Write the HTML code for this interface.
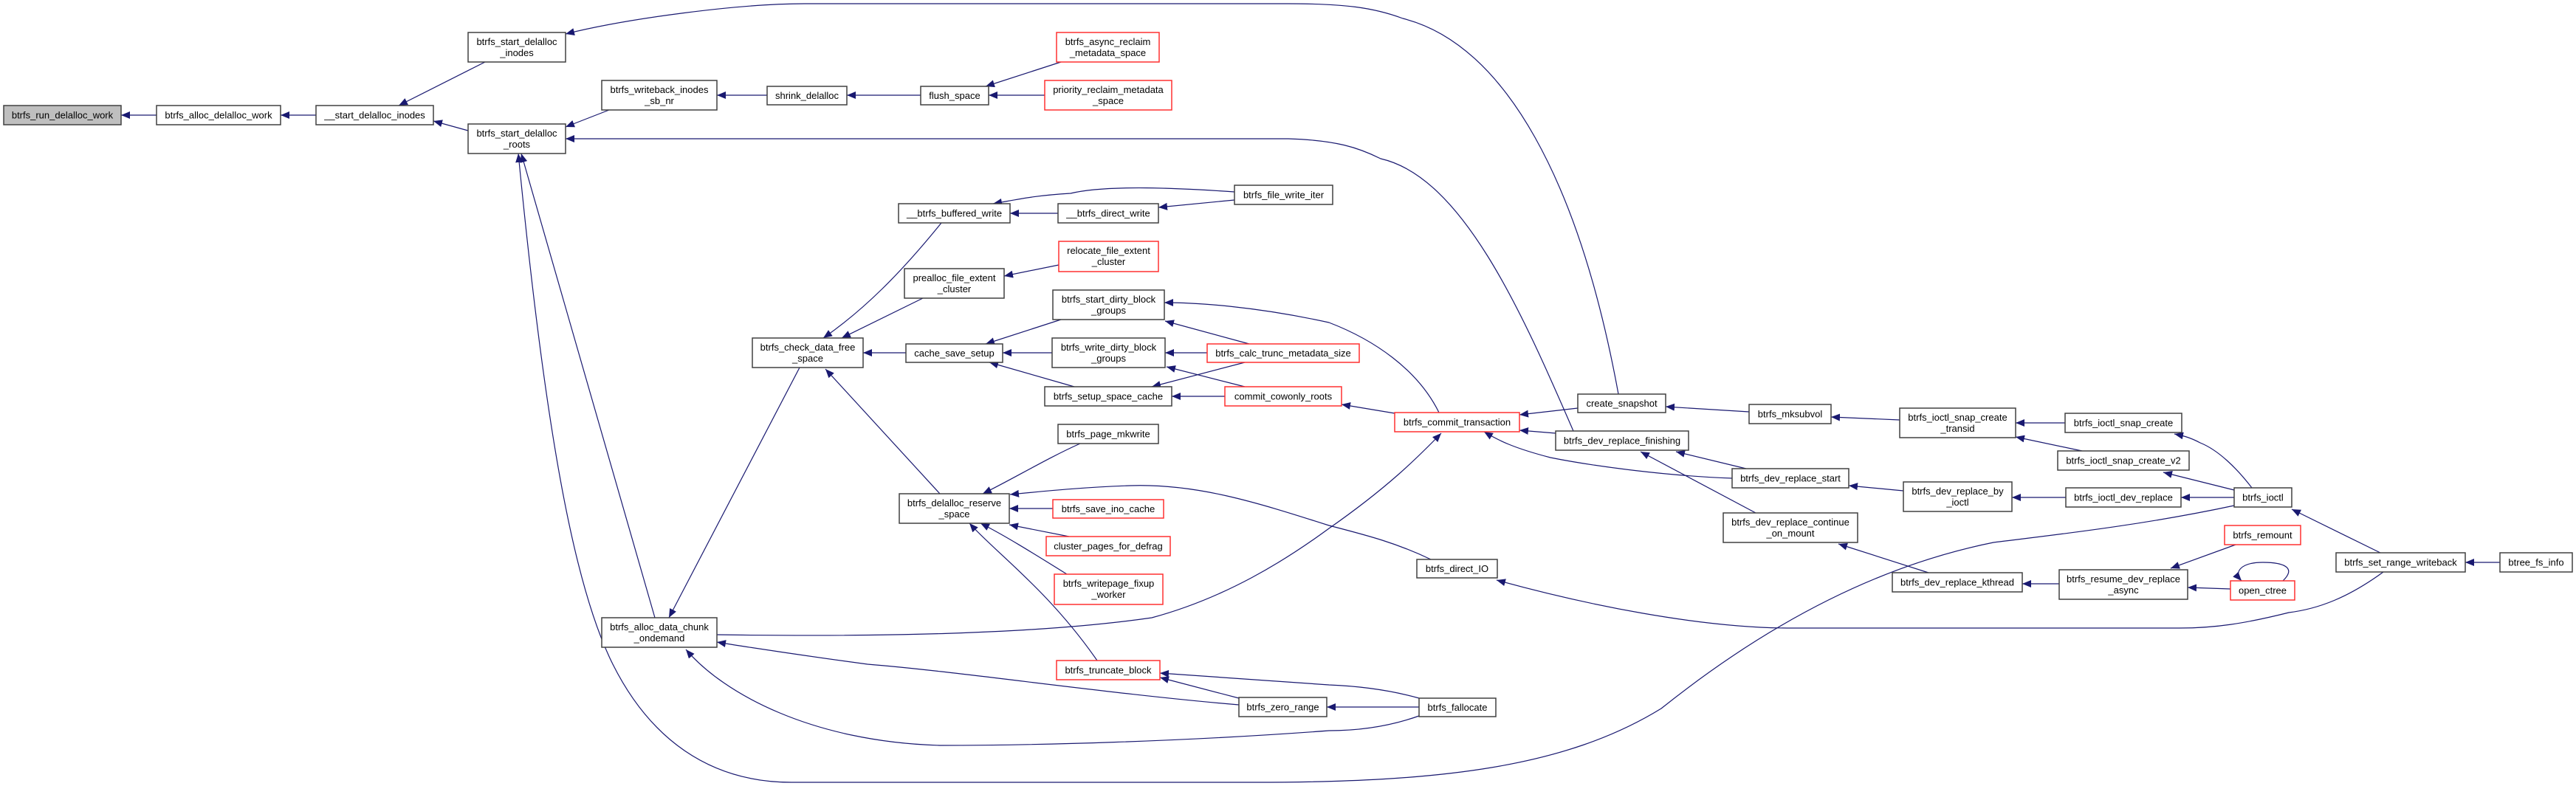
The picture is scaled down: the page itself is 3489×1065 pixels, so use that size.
<!DOCTYPE html>
<html><head><meta charset="utf-8"><style>
html,body{margin:0;padding:0;background:#fff;}
svg{display:block;}
text{font-family:"Liberation Sans",Arial,sans-serif;font-size:13px;fill:#000;}
.e{fill:none;stroke:#191970;stroke-width:1.2;}
.n{fill:#fff;stroke:#404040;stroke-width:1.5;}
.r{fill:#fff;stroke:#ff3030;stroke-width:1.5;}
.g{fill:#bfbfbf;stroke:#404040;stroke-width:1.5;}
</style></head><body>
<svg width="3489" height="1065" viewBox="0 0 3489 1065" xmlns="http://www.w3.org/2000/svg">
<defs><marker id="a" markerUnits="userSpaceOnUse" markerWidth="14" markerHeight="11" refX="12" refY="5" orient="auto"><path d="M0,0 L12,5 L0,10 z" fill="#191970"/></marker></defs>
<g marker-end="url(#a)">
<path class="e" d="M212,156 L164,156"/>
<path class="e" d="M428,156 L380,156"/>
<path class="e" d="M657,84 L540,143"/>
<path class="e" d="M634,177 L587,164"/>
<path class="e" d="M2192,534 C2140,250 2040,60 1900,25 C1860,10 1820,5 1745,5 L1090,5 C1000,5 850,25 766,46"/>
<path class="e" d="M825,149 L766,172"/>
<path class="e" d="M1039,129 L971,129"/>
<path class="e" d="M1247,129 L1147,129"/>
<path class="e" d="M1437,84 L1335,117"/>
<path class="e" d="M1415,129 L1339,129"/>
<path class="e" d="M2131,584 C2060,420 1980,240 1870,215 C1840,200 1810,190 1745,188 L766,188"/>
<path class="e" d="M887,837 L706,208"/>
<path class="e" d="M3026,685 C2900,712 2780,725 2700,735 C2550,765 2400,840 2250,960 C2120,1040 1950,1060 1700,1060 L1072,1060 C960,1060 880,1000 830,900 C780,800 740,600 702,208"/>
<path class="e" d="M1083,498 L906,837"/>
<path class="e" d="M1275,302 C1220,370 1170,420 1115,458"/>
<path class="e" d="M1250,404 L1140,458"/>
<path class="e" d="M1227,478 L1169,478"/>
<path class="e" d="M1273,669 L1118,500"/>
<path class="e" d="M1433,289 L1368,289"/>
<path class="e" d="M1672,260 C1600,255 1500,250 1450,262 C1400,265 1380,270 1345,276"/>
<path class="e" d="M1672,271 L1569,281"/>
<path class="e" d="M1434,359 L1360,374"/>
<path class="e" d="M1437,433 L1335,466"/>
<path class="e" d="M1425,478 L1358,478"/>
<path class="e" d="M1455,524 L1340,491"/>
<path class="e" d="M1692,466 L1578,435"/>
<path class="e" d="M1635,478 L1578,478"/>
<path class="e" d="M1686,491 L1560,524"/>
<path class="e" d="M1686,524 L1580,497"/>
<path class="e" d="M1659,537 L1587,537"/>
<path class="e" d="M1949,559 C1920,500 1860,460 1800,437 C1700,415 1620,410 1577,410"/>
<path class="e" d="M1889,560 L1817,548"/>
<path class="e" d="M2137,553 L2058,562"/>
<path class="e" d="M2107,587 L2058,583"/>
<path class="e" d="M2346,648 C2260,645 2160,632 2100,620 C2050,607 2030,597 2010,585"/>
<path class="e" d="M971,860 C1180,863 1400,860 1560,837 C1660,810 1740,760 1800,716 C1880,660 1920,620 1952,587"/>
<path class="e" d="M1938,758 C1890,735 1850,725 1800,712 C1700,680 1620,655 1531,658 C1470,660 1420,665 1368,670"/>
<path class="e" d="M1463,601 C1420,620 1370,650 1331,669"/>
<path class="e" d="M1426,689 L1367,689"/>
<path class="e" d="M1448,727 L1367,711"/>
<path class="e" d="M1445,778 C1400,750 1360,725 1328,709"/>
<path class="e" d="M1486,895 C1420,800 1350,750 1313,709"/>
<path class="e" d="M3228,775 C3180,810 3140,825 3100,830 C3040,845 3000,851 2952,851 L2420,851 C2300,850 2150,820 2027,786"/>
<path class="e" d="M1678,955 C1500,940 1300,910 1175,900 C1100,890 1000,875 971,870"/>
<path class="e" d="M1922,970 C1880,985 1840,990 1800,990 C1600,1005 1400,1010 1273,1010 C1100,1005 980,940 929,880"/>
<path class="e" d="M1678,946 L1571,918"/>
<path class="e" d="M1922,946 C1890,937 1850,930 1800,928 L1571,912"/>
<path class="e" d="M1922,958 L1797,958"/>
<path class="e" d="M2369,558 L2256,551"/>
<path class="e" d="M2573,569 L2480,565"/>
<path class="e" d="M2797,573 L2730,573"/>
<path class="e" d="M2820,611 L2730,592"/>
<path class="e" d="M3050,661 C3030,635 3005,610 2980,600 C2965,592 2955,590 2945,588"/>
<path class="e" d="M3026,664 L2930,640"/>
<path class="e" d="M3026,674 L2954,674"/>
<path class="e" d="M2798,674 L2725,674"/>
<path class="e" d="M2578,665 L2504,658"/>
<path class="e" d="M2365,635 L2270,612"/>
<path class="e" d="M2378,695 L2222,612"/>
<path class="e" d="M2612,776 L2490,737"/>
<path class="e" d="M2789,791 L2739,791"/>
<path class="e" d="M3028,738 L2940,770"/>
<path class="e" d="M3021,798 L2963,796"/>
<path class="e" d="M3092,787 C3110,770 3095,762 3065,762 C3035,762 3025,775 3036,787"/>
<path class="e" d="M3224,749 L3104,690"/>
<path class="e" d="M3386,762 L3339,762"/>
</g>
<g text-anchor="middle">
<rect class="g" x="5" y="143" width="159" height="26"/><text x="84.5" y="160.5">btrfs_run_delalloc_work</text>
<rect class="n" x="212" y="143" width="168" height="26"/><text x="296" y="160.5">btrfs_alloc_delalloc_work</text>
<rect class="n" x="428" y="143" width="159" height="26"/><text x="507.5" y="160.5">__start_delalloc_inodes</text>
<rect class="n" x="634" y="44" width="132" height="40"/><text x="700" y="61">btrfs_start_delalloc</text><text x="700" y="76">_inodes</text>
<rect class="n" x="634" y="168" width="132" height="40"/><text x="700" y="185">btrfs_start_delalloc</text><text x="700" y="200">_roots</text>
<rect class="n" x="815" y="109" width="156" height="40"/><text x="893" y="126">btrfs_writeback_inodes</text><text x="893" y="141">_sb_nr</text>
<rect class="n" x="1039" y="117" width="108" height="25"/><text x="1093" y="134">shrink_delalloc</text>
<rect class="n" x="1247" y="117" width="92" height="25"/><text x="1293" y="134">flush_space</text>
<rect class="r" x="1431" y="44" width="139" height="40"/><text x="1500.5" y="61">btrfs_async_reclaim</text><text x="1500.5" y="76">_metadata_space</text>
<rect class="r" x="1415" y="109" width="172" height="40"/><text x="1501" y="126">priority_reclaim_metadata</text><text x="1501" y="141">_space</text>
<rect class="n" x="1672" y="251" width="133" height="26"/><text x="1738.5" y="268.5">btrfs_file_write_iter</text>
<rect class="n" x="1217" y="276" width="151" height="26"/><text x="1292.5" y="293.5">__btrfs_buffered_write</text>
<rect class="n" x="1433" y="276" width="136" height="26"/><text x="1501" y="293.5">__btrfs_direct_write</text>
<rect class="r" x="1434" y="327" width="135" height="41"/><text x="1501.5" y="344">relocate_file_extent</text><text x="1501.5" y="359">_cluster</text>
<rect class="n" x="1225" y="364" width="135" height="40"/><text x="1292.5" y="381">prealloc_file_extent</text><text x="1292.5" y="396">_cluster</text>
<rect class="n" x="1426" y="393" width="151" height="40"/><text x="1501.5" y="410">btrfs_start_dirty_block</text><text x="1501.5" y="425">_groups</text>
<rect class="n" x="1019" y="458" width="150" height="40"/><text x="1094" y="475">btrfs_check_data_free</text><text x="1094" y="490">_space</text>
<rect class="n" x="1227" y="466" width="131" height="25"/><text x="1292.5" y="483">cache_save_setup</text>
<rect class="n" x="1425" y="458" width="153" height="40"/><text x="1501.5" y="475">btrfs_write_dirty_block</text><text x="1501.5" y="490">_groups</text>
<rect class="r" x="1635" y="466" width="206" height="25"/><text x="1738" y="483">btrfs_calc_trunc_metadata_size</text>
<rect class="n" x="1415" y="524" width="172" height="26"/><text x="1501" y="541.5">btrfs_setup_space_cache</text>
<rect class="r" x="1659" y="524" width="158" height="26"/><text x="1738" y="541.5">commit_cowonly_roots</text>
<rect class="n" x="1433" y="575" width="136" height="26"/><text x="1501" y="592.5">btrfs_page_mkwrite</text>
<rect class="n" x="1218" y="669" width="149" height="40"/><text x="1292.5" y="686">btrfs_delalloc_reserve</text><text x="1292.5" y="701">_space</text>
<rect class="r" x="1426" y="677" width="150" height="25"/><text x="1501" y="694">btrfs_save_ino_cache</text>
<rect class="r" x="1417" y="727" width="168" height="26"/><text x="1501" y="744.5">cluster_pages_for_defrag</text>
<rect class="r" x="1428" y="778" width="147" height="41"/><text x="1501.5" y="795">btrfs_writepage_fixup</text><text x="1501.5" y="810">_worker</text>
<rect class="n" x="815" y="837" width="156" height="40"/><text x="893" y="854">btrfs_alloc_data_chunk</text><text x="893" y="869">_ondemand</text>
<rect class="r" x="1431" y="895" width="140" height="26"/><text x="1501" y="912.5">btrfs_truncate_block</text>
<rect class="n" x="1678" y="945" width="119" height="26"/><text x="1737.5" y="962.5">btrfs_zero_range</text>
<rect class="r" x="1889" y="559" width="169" height="26"/><text x="1973.5" y="576.5">btrfs_commit_transaction</text>
<rect class="n" x="2137" y="534" width="119" height="25"/><text x="2196.5" y="551">create_snapshot</text>
<rect class="n" x="2107" y="584" width="180" height="26"/><text x="2197" y="601.5">btrfs_dev_replace_finishing</text>
<rect class="n" x="2369" y="548" width="111" height="26"/><text x="2424.5" y="565.5">btrfs_mksubvol</text>
<rect class="n" x="2573" y="553" width="157" height="40"/><text x="2651.5" y="570">btrfs_ioctl_snap_create</text><text x="2651.5" y="585">_transid</text>
<rect class="n" x="2346" y="635" width="158" height="26"/><text x="2425" y="652.5">btrfs_dev_replace_start</text>
<rect class="n" x="2578" y="653" width="147" height="40"/><text x="2651.5" y="670">btrfs_dev_replace_by</text><text x="2651.5" y="685">_ioctl</text>
<rect class="n" x="2334" y="695" width="182" height="40"/><text x="2425" y="712">btrfs_dev_replace_continue</text><text x="2425" y="727">_on_mount</text>
<rect class="n" x="1919" y="758" width="109" height="25"/><text x="1973.5" y="775">btrfs_direct_IO</text>
<rect class="n" x="2563" y="776" width="176" height="26"/><text x="2651" y="793.5">btrfs_dev_replace_kthread</text>
<rect class="n" x="1922" y="946" width="104" height="25"/><text x="1974" y="963">btrfs_fallocate</text>
<rect class="n" x="2797" y="560" width="158" height="26"/><text x="2876" y="577.5">btrfs_ioctl_snap_create</text>
<rect class="n" x="2787" y="611" width="178" height="26"/><text x="2876" y="628.5">btrfs_ioctl_snap_create_v2</text>
<rect class="n" x="2798" y="661" width="156" height="26"/><text x="2876" y="678.5">btrfs_ioctl_dev_replace</text>
<rect class="n" x="3026" y="661" width="78" height="26"/><text x="3065" y="678.5">btrfs_ioctl</text>
<rect class="r" x="3013" y="712" width="103" height="26"/><text x="3064.5" y="729.5">btrfs_remount</text>
<rect class="n" x="2789" y="772" width="174" height="40"/><text x="2876" y="789">btrfs_resume_dev_replace</text><text x="2876" y="804">_async</text>
<rect class="r" x="3021" y="787" width="87" height="26"/><text x="3064.5" y="804.5">open_ctree</text>
<rect class="n" x="3164" y="749" width="175" height="26"/><text x="3251.5" y="766.5">btrfs_set_range_writeback</text>
<rect class="n" x="3386" y="749" width="98" height="26"/><text x="3435" y="766.5">btree_fs_info</text>
</g>
</svg>
</body></html>
